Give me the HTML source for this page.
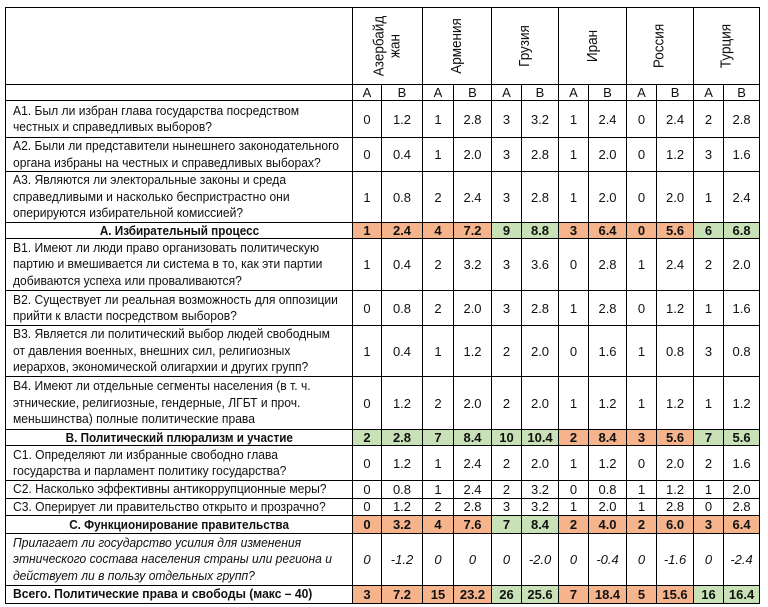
<!DOCTYPE html>
<html><head><meta charset="utf-8"><style>
body{margin:0;width:768px;height:607px;background:#fff;font-family:"Liberation Sans",Arial,sans-serif;color:#111;overflow:hidden}
table{position:absolute;left:5px;top:7px;border-collapse:collapse;table-layout:fixed;width:754px}
td{border:1px solid #000;padding:0;font-size:13px;text-align:center;vertical-align:middle;overflow:hidden;white-space:nowrap}
td.q{text-align:left;padding-left:7px;line-height:16.5px}
.n{display:inline-block;transform:scaleX(.93);transform-origin:left center}
.c{display:inline-block;transform:scaleX(.9)}
td.h{font-weight:bold}
.o{background:#f6b48c;font-weight:bold}
.g{background:#c8e1b6;font-weight:bold}
.i{font-style:italic}
.rot{display:inline-block;transform:rotate(-90deg);white-space:nowrap;line-height:16px;font-size:15px}
</style></head><body>
<table>
<colgroup><col style="width:347px"><col style="width:29px"><col style="width:41px"><col style="width:31px"><col style="width:38px"><col style="width:30px"><col style="width:37px"><col style="width:30px"><col style="width:38px"><col style="width:30px"><col style="width:37px"><col style="width:30px"><col style="width:36px"></colgroup>
<tr style="height:77px"><td></td><td colspan="2"><span class="rot"><span class="c">Азербайд<br>жан</span></span></td><td colspan="2"><span class="rot"><span class="c">Армения</span></span></td><td colspan="2"><span class="rot"><span class="c">Грузия</span></span></td><td colspan="2"><span class="rot"><span class="c">Иран</span></span></td><td colspan="2"><span class="rot"><span class="c">Россия</span></span></td><td colspan="2"><span class="rot"><span class="c">Турция</span></span></td></tr>
<tr style="height:16px"><td></td><td>A</td><td>B</td><td>A</td><td>B</td><td>A</td><td>B</td><td>A</td><td>B</td><td>A</td><td>B</td><td>A</td><td>B</td></tr>
<tr style="height:37px"><td class="q"><span class="n">А1. Был ли избран глава государства посредством<br>честных и справедливых выборов?</span></td><td>0</td><td>1.2</td><td>1</td><td>2.8</td><td>3</td><td>3.2</td><td>1</td><td>2.4</td><td>0</td><td>2.4</td><td>2</td><td>2.8</td></tr>
<tr style="height:33px"><td class="q"><span class="n">А2. Были ли представители нынешнего законодательного<br>органа избраны на честных и справедливых выборах?</span></td><td>0</td><td>0.4</td><td>1</td><td>2.0</td><td>3</td><td>2.8</td><td>1</td><td>2.0</td><td>0</td><td>1.2</td><td>3</td><td>1.6</td></tr>
<tr style="height:51px"><td class="q"><span class="n">А3. Являются ли электоральные законы и среда<br>справедливыми и насколько беспристрастно они<br>оперируются избирательной комиссией?</span></td><td>1</td><td>0.8</td><td>2</td><td>2.4</td><td>3</td><td>2.8</td><td>1</td><td>2.0</td><td>0</td><td>2.0</td><td>1</td><td>2.4</td></tr>
<tr style="height:16px"><td class="h"><span class="c">А. Избирательный процесс</span></td><td class="o">1</td><td class="o">2.4</td><td class="o">4</td><td class="o">7.2</td><td class="g">9</td><td class="g">8.8</td><td class="o">3</td><td class="o">6.4</td><td class="o">0</td><td class="o">5.6</td><td class="g">6</td><td class="g">6.8</td></tr>
<tr style="height:52px"><td class="q"><span class="n">В1. Имеют ли люди право организовать политическую<br>партию и вмешивается ли система в то, как эти партии<br>добиваются успеха или проваливаются?</span></td><td>1</td><td>0.4</td><td>2</td><td>3.2</td><td>3</td><td>3.6</td><td>0</td><td>2.8</td><td>1</td><td>2.4</td><td>2</td><td>2.0</td></tr>
<tr style="height:35px"><td class="q"><span class="n">В2. Существует ли реальная возможность для оппозиции<br>прийти к власти посредством выборов?</span></td><td>0</td><td>0.8</td><td>2</td><td>2.0</td><td>3</td><td>2.8</td><td>1</td><td>2.8</td><td>0</td><td>1.2</td><td>1</td><td>1.6</td></tr>
<tr style="height:51px"><td class="q"><span class="n">В3. Является ли политический выбор людей свободным<br>от давления военных, внешних сил, религиозных<br>иерархов, экономической олигархии и других групп?</span></td><td>1</td><td>0.4</td><td>1</td><td>1.2</td><td>2</td><td>2.0</td><td>0</td><td>1.6</td><td>1</td><td>0.8</td><td>3</td><td>0.8</td></tr>
<tr style="height:53px"><td class="q"><span class="n">В4. Имеют ли отдельные сегменты населения (в т. ч.<br>этнические, религиозные, гендерные, ЛГБТ и проч.<br>меньшинства) полные политические права</span></td><td>0</td><td>1.2</td><td>2</td><td>2.0</td><td>2</td><td>2.0</td><td>1</td><td>1.2</td><td>1</td><td>1.2</td><td>1</td><td>1.2</td></tr>
<tr style="height:15px"><td class="h"><span class="c">В. Политический плюрализм и участие</span></td><td class="g">2</td><td class="g">2.8</td><td class="g">7</td><td class="g">8.4</td><td class="g">10</td><td class="g">10.4</td><td class="o">2</td><td class="o">8.4</td><td class="o">3</td><td class="o">5.6</td><td class="g">7</td><td class="g">5.6</td></tr>
<tr style="height:35px"><td class="q"><span class="n">С1. Определяют ли избранные свободно глава<br>государства и парламент политику государства?</span></td><td>0</td><td>1.2</td><td>1</td><td>2.4</td><td>2</td><td>2.0</td><td>1</td><td>1.2</td><td>0</td><td>2.0</td><td>2</td><td>1.6</td></tr>
<tr style="height:17px"><td class="q"><span class="n">С2. Насколько эффективны антикоррупционные меры?</span></td><td>0</td><td>0.8</td><td>1</td><td>2.4</td><td>2</td><td>3.2</td><td>0</td><td>0.8</td><td>1</td><td>1.2</td><td>1</td><td>2.0</td></tr>
<tr style="height:17px"><td class="q"><span class="n">С3. Оперирует ли правительство открыто и прозрачно?</span></td><td>0</td><td>1.2</td><td>2</td><td>2.8</td><td>3</td><td>3.2</td><td>1</td><td>2.0</td><td>1</td><td>2.8</td><td>0</td><td>2.8</td></tr>
<tr style="height:18px"><td class="h"><span class="c">С. Функционирование правительства</span></td><td class="o">0</td><td class="o">3.2</td><td class="o">4</td><td class="o">7.6</td><td class="g">7</td><td class="g">8.4</td><td class="o">2</td><td class="o">4.0</td><td class="o">2</td><td class="o">6.0</td><td class="o">3</td><td class="o">6.4</td></tr>
<tr style="height:52px" class="i"><td class="q"><span class="n">Прилагает ли государство усилия для изменения<br>этнического состава населения страны или региона и<br>действует ли в пользу отдельных групп?</span></td><td>0</td><td>-1.2</td><td>0</td><td>0</td><td>0</td><td>-2.0</td><td>0</td><td>-0.4</td><td>0</td><td>-1.6</td><td>0</td><td>-2.4</td></tr>
<tr style="height:16px"><td class="q h"><span class="n">Всего. Политические права и свободы (макс – 40)</span></td><td class="o">3</td><td class="o">7.2</td><td class="o">15</td><td class="o">23.2</td><td class="g">26</td><td class="g">25.6</td><td class="o">7</td><td class="o">18.4</td><td class="o">5</td><td class="o">15.6</td><td class="g">16</td><td class="g">16.4</td></tr>
</table>
</body></html>
